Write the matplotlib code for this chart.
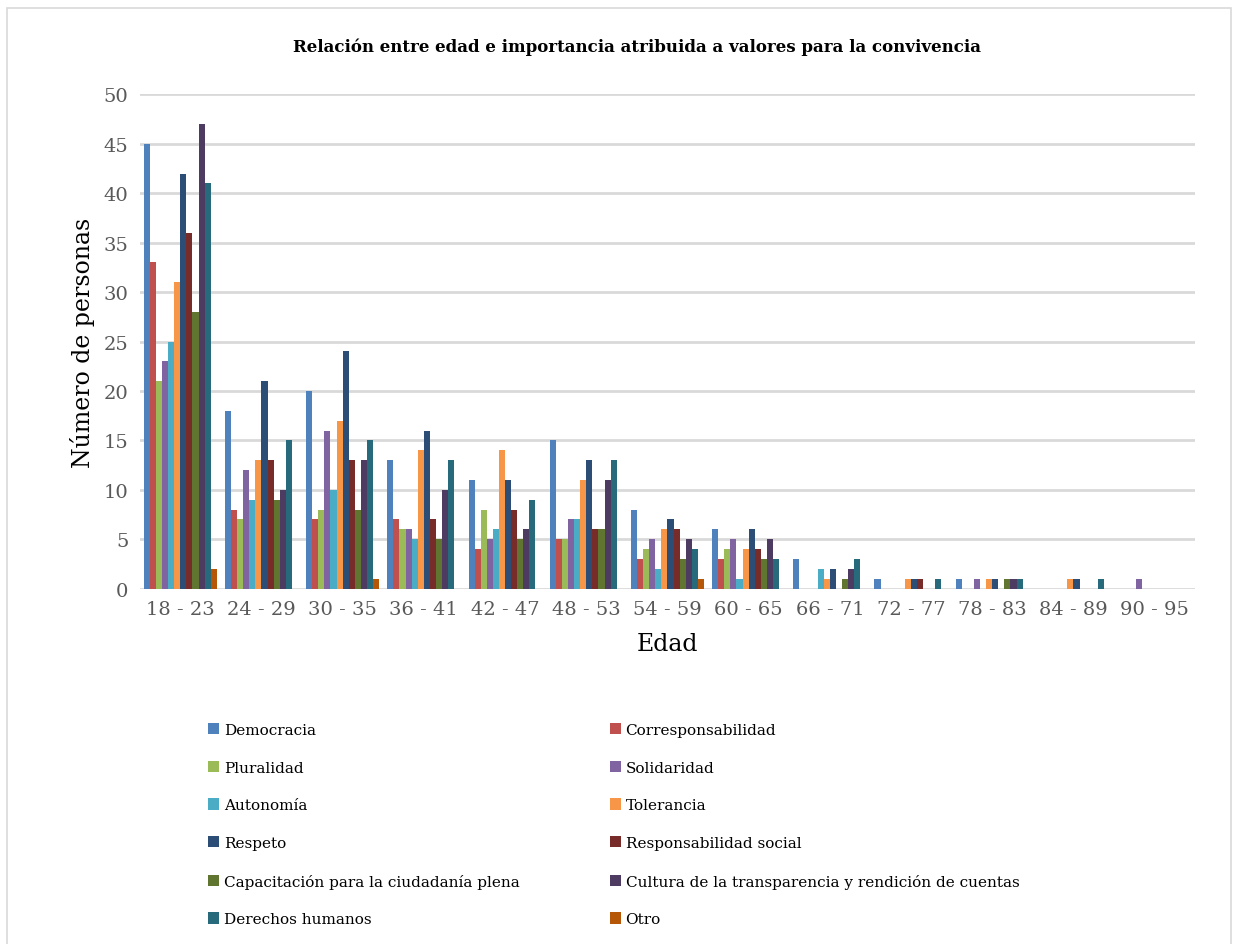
import numpy as np
import matplotlib.pyplot as plt
from matplotlib.patches import Rectangle

plt.rcParams['font.family'] = ['DejaVu Serif', 'DejaVu Sans']

edades = ['18 - 23', '24 - 29', '30 - 35', '36 - 41', '42 - 47', '48 - 53', '54 - 59',
          '60 - 65', '66 - 71', '72 - 77', '78 - 83', '84 - 89', '90 - 95']

series = ['Democracia', 'Corresponsabilidad', 'Pluralidad', 'Solidaridad', 'Autonomía',
          'Tolerancia', 'Respeto', 'Responsabilidad social',
          'Capacitación para la ciudadanía plena',
          'Cultura de la transparencia y rendición de cuentas',
          'Derechos humanos', 'Otro']

democracia = [45, 18, 20, 13, 11, 15, 8, 6, 3, 1, 1, 0, 0]
corresponsabilidad = [33, 8, 7, 7, 4, 5, 3, 3, 0, 0, 0, 0, 0]
pluralidad = [21, 7, 8, 6, 8, 5, 4, 4, 0, 0, 0, 0, 0]
solidaridad = [23, 12, 16, 6, 5, 7, 5, 5, 0, 0, 1, 0, 1]
autonomia = [25, 9, 10, 5, 6, 7, 2, 1, 2, 0, 0, 0, 0]
tolerancia = [31, 13, 17, 14, 14, 11, 6, 4, 1, 1, 1, 1, 0]
respeto = [42, 21, 24, 16, 11, 13, 7, 6, 2, 1, 1, 1, 0]
resp_social = [36, 13, 13, 7, 8, 6, 6, 4, 0, 1, 0, 0, 0]
capacitacion = [28, 9, 8, 5, 5, 6, 3, 3, 1, 0, 1, 0, 0]
cultura = [47, 10, 13, 10, 6, 11, 5, 5, 2, 0, 1, 0, 0]
derechos = [41, 15, 15, 13, 9, 13, 4, 3, 3, 1, 1, 1, 0]
otro = [2, 0, 1, 0, 0, 0, 1, 0, 0, 0, 0, 0, 0]

valores = [democracia, corresponsabilidad, pluralidad, solidaridad, autonomia, tolerancia,
           respeto, resp_social, capacitacion, cultura, derechos, otro]

colores = ['#4F81BD', '#C0504D', '#9BBB59', '#8064A2', '#4BACC6', '#F79646',
           '#2C4D75', '#772C2A', '#5F7530', '#4D3B62', '#276A7C', '#B65708']

fig = plt.figure(figsize=(12.36, 9.45), dpi=100)
ax = fig.add_axes([0.113, 0.376, 0.854, 0.523])

x = np.arange(len(edades))
n = len(series)
w = 0.075
barras = []
for i in range(n):
    pos = x - (n - 1) * w / 2 + i * w
    b = ax.bar(pos, valores[i], width=w, color=colores[i], edgecolor='none',
               label=series[i], zorder=3)
    barras.append(b)

ax.set_ylim(0, 50)
ax.set_xlim(-0.5, len(edades) - 0.5)
ax.set_yticks(range(0, 51, 5))
ax.set_xticks(x)
ax.set_xticklabels(edades)
ax.grid(axis='y', color='#D9D9D9', linewidth=2, zorder=0)
for s in ax.spines.values():
    s.set_visible(False)
ax.tick_params(length=0, labelsize=14, colors='#595959', pad=8)
ax.set_ylabel('Número de personas', fontsize=17, labelpad=6)
ax.set_xlabel('Edad', fontsize=17, labelpad=10)

fig.text(0.515, 0.950, 'Relación entre edad e importancia atribuida a valores para la convivencia',
         ha='center', va='center', fontsize=12, fontweight='bold')

# leyenda en dos columnas, orden por filas
izq = [barras[i] for i in range(0, n, 2)]
der = [barras[i] for i in range(1, n, 2)]
opts = dict(loc='upper left', frameon=False, fontsize=11, handlelength=0.75,
            handleheight=0.75, handletextpad=0.3, labelspacing=1.55, borderpad=0)
fig.legend(izq, [series[i] for i in range(0, n, 2)], bbox_to_anchor=(0.162, 0.242), **opts)
fig.legend(der, [series[i] for i in range(1, n, 2)], bbox_to_anchor=(0.487, 0.242), **opts)

fig.patches.append(Rectangle((0.006, -0.01), 0.99, 1.0, transform=fig.transFigure,
                             fill=False, edgecolor='#D9D9D9', linewidth=1.2))

fig.savefig('out.png', dpi=100)
